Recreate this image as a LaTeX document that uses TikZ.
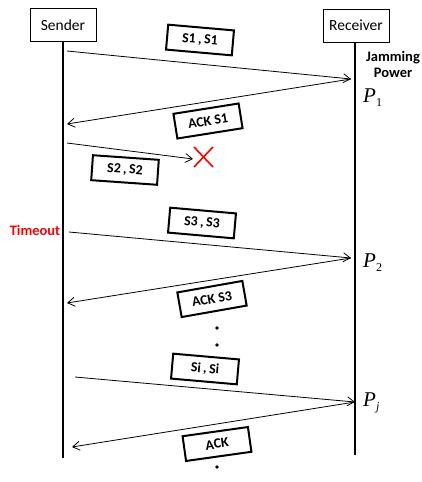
\documentclass[tikz,border=0pt]{standalone}
\usepackage{fontspec}
\setmainfont{Liberation Serif}
\newfontfamily\calib{Carlito}
\usetikzlibrary{arrows.meta}
\begin{document}
\begin{tikzpicture}[x=1pt,y=-1pt,
  actor/.style={draw,line width=0.9pt,minimum width=66pt,minimum height=33pt,inner sep=0pt,font=\calib\fontsize{15.5}{15.5}\selectfont},
  life/.style={line width=1.2pt},
  msg/.style={line width=0.8pt,-{Straight Barb[length=7pt,width=9pt,line width=0.8pt]}},
  pkt/.style={draw,line width=2pt,minimum width=66pt,minimum height=25pt,inner sep=0pt,font=\calib\bfseries\fontsize{14}{14}\selectfont},
  note/.style={font=\calib\bfseries\fontsize{14.5}{16}\selectfont,align=center},
  pw/.style={anchor=west,inner sep=0pt,font=\fontsize{21}{21}\selectfont},
  dotm/.style={fill,circle,inner sep=0pt,minimum size=3.6pt}
]
\useasboundingbox (0,0) rectangle (421,482);
% actors
\node[actor] (snd) at (63,25) {Sender};
\node[actor] (rcv) at (356,25.5) {Receiver};
\coordinate (sndEnd) at (63,458);
\coordinate (rcvEnd) at (355,455);
\draw[life] (snd.south) -- (sndEnd);
\draw[life] (rcv.south -| rcvEnd) -- (rcvEnd);
% labels on the receiver side
\node[note] (jam) at (393,64) {Jamming\\Power};
\node[pw] (p1) at (363,98) {\itshape P\raisebox{-4pt}{\fontsize{12}{12}\selectfont\upshape 1}};
\node[pw] (p2) at (363,263) {\itshape P\raisebox{-4pt}{\fontsize{12}{12}\selectfont\upshape 2}};
\node[pw] (pj) at (363,403) {\itshape P\raisebox{-4pt}{\fontsize{12}{12}\selectfont\itshape j}};
\node[note,text=red] (tout) at (35,230) {Timeout};
% message end points
\coordinate (a1) at (67,51);
\coordinate (r1) at (351,79);
\coordinate (b1) at (67,124);
\coordinate (a2) at (67,143);
\coordinate (lost) at (204,157);
\coordinate (a3) at (69,232);
\coordinate (r2) at (351,258);
\coordinate (b3) at (67,303);
\coordinate (a4) at (75,377);
\coordinate (r3) at (355,402);
\coordinate (b4) at (72,447);
% messages
\draw[msg] (a1) -- (r1);
\draw[msg] (r1) -- (b1);
\draw[msg] (a2) -- ([xshift=-11pt,yshift=-2pt]lost);
\draw[msg] (a3) -- (r2);
\draw[msg] (r2) -- (b3);
\draw[msg] (a4) -- (r3);
\draw[msg] (r3) -- (b4);
% lost packet
\draw[red,line width=1.6pt] ([xshift=-10pt,yshift=-10pt]lost) -- ([xshift=9pt,yshift=10pt]lost)
  ([xshift=9pt,yshift=-10pt]lost) -- ([xshift=-10pt,yshift=10pt]lost);
% packets
\node[pkt,rotate=-5] (k1) at (200,40) {S1\,,\,S1};
\node[pkt,rotate=9] (k2) at (208,121) {ACK S1};
\node[pkt,rotate=-4] (k3) at (125,170) {S2\,,\,S2};
\node[pkt,rotate=-5] (k4) at (202,223) {S3\,,\,S3};
\node[pkt,rotate=10] (k5) at (212,299) {ACK S3};
\node[pkt,rotate=-5] (k6) at (205,369) {Si\,,\,Si};
\node[pkt,rotate=8] (k7) at (217,444) {ACK};
% dots
\node[dotm] (d1) at (217,328) {};
\node[dotm] (d2) at (217,345) {};
\node[dotm] (d3) at (217,467) {};
\end{tikzpicture}
\end{document}
